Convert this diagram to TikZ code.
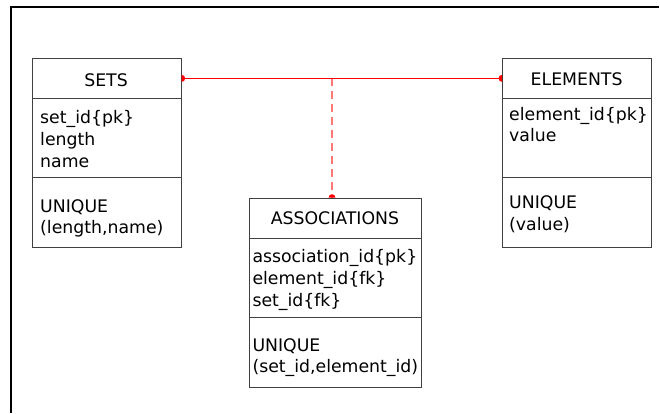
\documentclass[tikz,border=0pt]{standalone}
\usepackage{fontspec}
\setmainfont{DejaVu Sans}
\definecolor{dashred}{RGB}{255,120,120}
\begin{document}
\begin{tikzpicture}[x=1pt,y=-1pt,
  box/.style={draw=black!75,line width=1pt,inner sep=0pt,anchor=north west},
  txt/.style={anchor=base west,inner sep=0pt,font=\fontsize{17.3}{21.7}\selectfont},
  hdr/.style={anchor=base,inner sep=0pt,font=\fontsize{17.3}{21.7}\selectfont},
  rel/.style={draw=red,line width=0.9pt},
  reldash/.style={draw=dashred,line width=1.6pt,dash pattern=on 8pt off 5pt},
  dot/.style={fill=red}]
\useasboundingbox (0,0) rectangle (660,413);
% frame
\coordinate (fa) at (11,7);
\coordinate (fb) at (659,7);
\coordinate (fc) at (11,413);
\draw[line width=1.3pt] (fb) -- (fa) -- (fc);
% SETS
\node[box,minimum width=149pt,minimum height=40.3pt] (setsH) at (31.7,57.7) {};
\node[box,minimum width=149pt,minimum height=78.7pt] (setsA) at (31.7,98) {};
\node[box,minimum width=149pt,minimum height=70.3pt] (setsU) at (31.7,176.7) {};
\node[hdr] (setsT) at (106,86) {SETS};
\node[txt] (s1) at (40,123.3) {set\_id\{pk\}};
\node[txt] (s2) at (40,145.5) {length};
\node[txt] (s3) at (40,167.3) {name};
\node[txt] (s4) at (40,212) {UNIQUE};
\node[txt] (s5) at (40,233.8) {(length,name)};
% ELEMENTS
\node[box,minimum width=149.3pt,minimum height=40.3pt] (elH) at (502,57.7) {};
\node[box,minimum width=149.3pt,minimum height=78.7pt] (elA) at (502,98) {};
\node[box,minimum width=149.3pt,minimum height=70.3pt] (elU) at (502,176.7) {};
\node[hdr] (elT) at (576.6,85.5) {ELEMENTS};
\node[txt] (e1) at (509,120) {element\_id\{pk\}};
\node[txt] (e2) at (509,141.7) {value};
\node[txt] (e3) at (509,208.3) {UNIQUE};
\node[txt] (e4) at (509,230) {(value)};
% ASSOCIATIONS
\node[box,minimum width=172.3pt,minimum height=40.6pt] (asH) at (248.7,197.7) {};
\node[box,minimum width=172.3pt,minimum height=78.7pt] (asA) at (248.7,238.3) {};
\node[box,minimum width=172.3pt,minimum height=70pt] (asU) at (248.7,317) {};
\node[hdr] (asT) at (334.9,224.3) {ASSOCIATIONS};
\node[txt] (a1) at (252.3,262.7) {association\_id\{pk\}};
\node[txt] (a2) at (252.3,284.3) {element\_id\{fk\}};
\node[txt] (a3) at (252.3,306) {set\_id\{fk\}};
\node[txt] (a4) at (252.3,351) {UNIQUE};
\node[txt] (a5) at (252.3,372.7) {(set\_id,element\_id)};
% relations
\coordinate (j) at (332,0 |- setsH.east);
\coordinate (ja) at (j |- asH.north);
\draw[reldash] (j) -- (ja);
\draw[rel] (setsH.east) -- (elH.west);
\fill[dot] (setsH.east) ++(0,-3.5) arc[start angle=-90,end angle=90,radius=3.5] -- cycle;
\fill[dot] (elH.west) ++(0,3.5) arc[start angle=90,end angle=270,radius=3.5] -- cycle;
\fill[dot] (ja) ++(-3.5,0) arc[start angle=180,end angle=360,radius=3.5] -- cycle;
\end{tikzpicture}
\end{document}
